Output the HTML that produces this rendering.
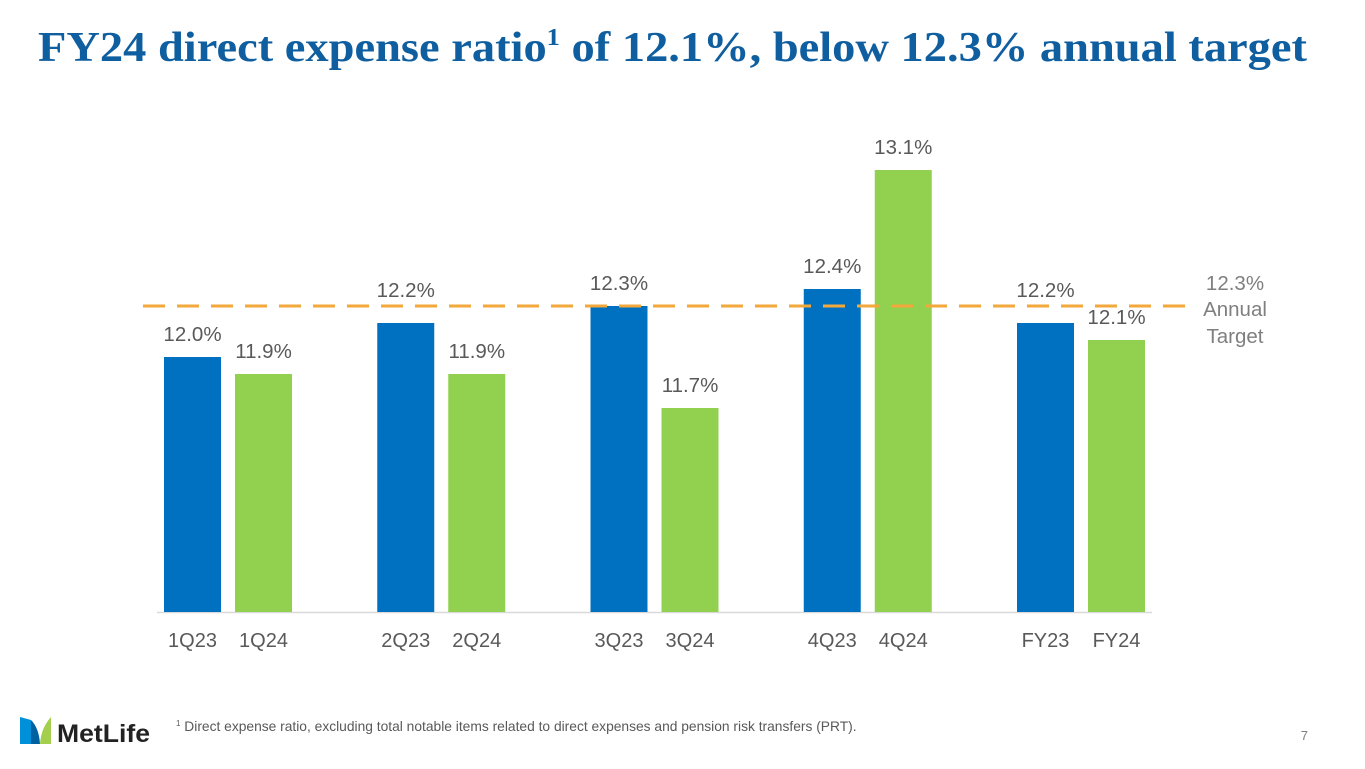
<!DOCTYPE html>
<html><head><meta charset="utf-8"><style>
body{margin:0;background:#fff;}
svg{display:block;font-family:"Liberation Sans",Arial,sans-serif;}
</style></head><body>
<svg width="1365" height="769" viewBox="0 0 1365 769">
<text x="38" y="61" font-family="Liberation Serif,serif" font-weight="bold" font-size="42" fill="#0F5FA0" textLength="1269" lengthAdjust="spacingAndGlyphs">FY24 direct expense ratio<tspan font-size="24" dy="-16">1</tspan><tspan dy="16"> of 12.1%, below 12.3% annual target</tspan></text>
<g id="chart"></g>
<g>
<path d="M20 717 L31 720 L31 744 L20 744 Z" fill="#0090DA"/>
<path d="M31 720 Q39 728 40 744 L31 744 Z" fill="#0061A0"/>
<path d="M40 744 Q41 728 51 717 L51 744 Z" fill="#A4CE4E"/>
<text x="57" y="742" font-weight="bold" font-size="25" fill="#222" textLength="93" lengthAdjust="spacingAndGlyphs">MetLife</text>
</g>
<text x="176" y="731" font-size="13.8" fill="#595959"><tspan font-size="8" dy="-5">1</tspan><tspan dy="5"> Direct expense ratio, excluding total notable items related to direct expenses and pension risk transfers (PRT).</tspan></text>
<text x="1308" y="740" font-size="13" fill="#7f7f7f" text-anchor="end">7</text>
</svg>
<script>
const categories=["1Q","2Q","3Q","4Q","FY"];
const labels23=["1Q23","2Q23","3Q23","4Q23","FY23"];
const labels24=["1Q24","2Q24","3Q24","4Q24","FY24"];
const values23=[12.0,12.2,12.3,12.4,12.2];
const values24=[11.9,11.9,11.7,13.1,12.1];
const target=12.3;
const NS="http://www.w3.org/2000/svg";
const g=document.getElementById('chart');
const base=612, y0=10.5, ppu=170;
function y(v){return base-(v-y0)*ppu;}
function x(i){return 164+i*213.25;}
function mk(t,a){const e=document.createElementNS(NS,t);for(const k in a)e.setAttribute(k,a[k]);g.appendChild(e);return e;}
const ax=mk('line',{x1:157,x2:1152,y1:base+0.5,y2:base+0.5,stroke:'#D9D9D9','stroke-width':1.5});


categories.forEach((c,i)=>{
  [[values23[i],labels23[i],'#0070C0',0],[values24[i],labels24[i],'#92D050',71]].forEach(([v,l,col,off])=>{
    const bx=x(i)+off;
    const r=mk('rect',{x:bx,y:y(v),width:57,height:base-y(v),fill:col});
    
    
    let ly=y(v)-16;
    if(Math.abs(ly-7-y(target))<8) ly=y(target)-9;
    const t=mk('text',{x:bx+28.5,y:ly,'text-anchor':'middle','font-size':20.5,fill:'#595959'});
    t.textContent=v.toFixed(1)+'%';
    
    
    const c2=mk('text',{x:bx+28.5,y:647,'text-anchor':'middle','font-size':20,fill:'#595959'});
    c2.textContent=l;
    
    
  });
});
const tl=mk('line',{x1:143,x2:1190,y1:y(target),y2:y(target),stroke:'#F2A83A','stroke-width':3,'stroke-dasharray':'22 12'});


const tt=mk('text',{'text-anchor':'middle','font-size':20.5,fill:'#7f7f7f'});


[[target.toFixed(1)+'%',290],['Annual',316],['Target',343]].forEach(([s,yy])=>{const sp=document.createElementNS(NS,'tspan');sp.setAttribute('x',1235);sp.setAttribute('y',yy);sp.textContent=s;tt.appendChild(sp);});
</script>
</body></html>
